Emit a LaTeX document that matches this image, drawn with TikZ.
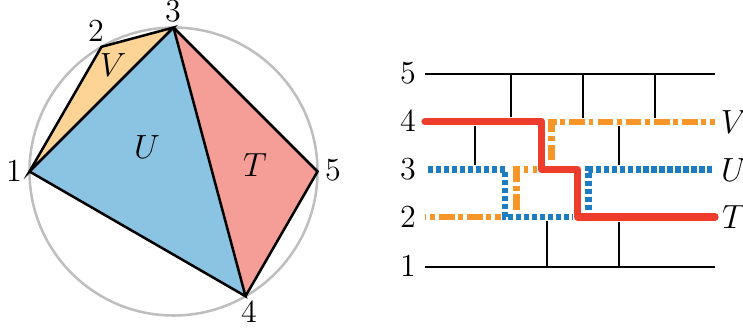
\documentclass[tikz,border=0pt]{standalone}
\definecolor{fillV}{RGB}{254,212,150}
\definecolor{fillU}{RGB}{139,195,226}
\definecolor{fillT}{RGB}{245,158,152}
\definecolor{lineV}{RGB}{247,150,40}
\definecolor{lineU}{RGB}{28,125,195}
\definecolor{lineT}{RGB}{238,60,45}
\definecolor{circ}{RGB}{190,190,190}
\begin{document}
\begin{tikzpicture}[x=0.358pt,y=-0.358pt,
  font=\fontsize{11.5}{13}\selectfont,
  edge/.style={line width=0.9pt},
  rung/.style={line width=0.7pt},
  lbl/.style={inner sep=0pt},
  pathT/.style={draw=lineT, line width=2.6pt, line cap=round, line join=round,
    preaction={draw=white, line width=3.4pt, line cap=round}},
  pathU/.style={draw=lineU, line width=2.3pt, dash pattern=on 1.9pt off 0.95pt,
    preaction={draw=white, line width=2.9pt}},
  pathV/.style={draw=lineV, line width=2.3pt, dash pattern=on 5.6pt off 1.3pt on 1.7pt off 1.5pt, dash phase=5.1pt,
    preaction={draw=white, line width=2.9pt}},
]
\useasboundingbox (0,0) rectangle (743,328);
% ---------- left: triangulated pentagon in a circle
\coordinate (c) at (173.5,171.5);
\coordinate (p1) at (29.5,171.5);
\coordinate (p2) at (101.5,46.8);
\coordinate (p3) at (173.5,27.5);
\coordinate (p4) at (245.5,296.2);
\coordinate (p5) at (317.5,171.5);
\draw[circ, line width=0.9pt] (c) circle[radius=51.55pt];
\fill[fillV] (p1) -- (p2) -- (p3) -- cycle;
\fill[fillU] (p1) -- (p3) -- (p4) -- cycle;
\fill[fillT] (p3) -- (p4) -- (p5) -- cycle;
\draw[edge] (p1) -- (p2) -- (p3) -- cycle;
\draw[edge] (p3) -- (p4) -- (p1);
\draw[edge] (p3) -- (p5) -- (p4);
\node[lbl] (l1) at (14,171) {1};
\node[lbl] (l2) at (96,30.5) {2};
\node[lbl] (l3) at (173,11.5) {3};
\node[lbl] (l4) at (249,312) {4};
\node[lbl] (l5) at (333,170) {5};
\node[lbl] (tV) at (113,65) {$V$};
\node[lbl] (tU) at (147,147) {$U$};
\node[lbl] (tT) at (255,165) {$T$};
% ---------- right: wiring diagram
\node[lbl] (r5) at (408,73) {5};
\node[lbl] (r4) at (408,121) {4};
\node[lbl] (r3) at (408,169) {3};
\node[lbl] (r2) at (408,216.5) {2};
\node[lbl] (r1) at (408,266) {1};
\node[lbl] (nV) at (734,122) {$V$};
\node[lbl] (nU) at (734,170) {$U$};
\node[lbl] (nT) at (734,217) {$T$};
\coordinate (a5) at (425,74.3);  \coordinate (b5) at (715,74.3);
\coordinate (a1) at (425,266.7); \coordinate (b1) at (715,266.7);
\draw[rung] (a5) -- (b5);
\draw[rung] (a1) -- (b1);
% rungs
\foreach \x in {511,583,655} \draw[rung] (\x,74.3) -- (\x,121.7);
\foreach \x in {475,619} \draw[rung] (\x,121.7) -- (\x,169.5);
\foreach \x in {547,619} \draw[rung] (\x,217) -- (\x,266.7);
% paths
\draw[pathV] (425,217) -- (516.5,217) -- (516.5,169.5) -- (551.7,169.5) -- (551.7,121.7) -- (715,121.7);
\draw[pathU] (428,169.5) -- (505,169.5) -- (505,217) -- (588.5,217) -- (588.5,169.5) -- (715,169.5);
\draw[pathT] (425,121.7) -- (541.7,121.7) -- (541.7,169.5) -- (577.5,169.5) -- (577.5,217) -- (715,217);
\end{tikzpicture}
\end{document}
